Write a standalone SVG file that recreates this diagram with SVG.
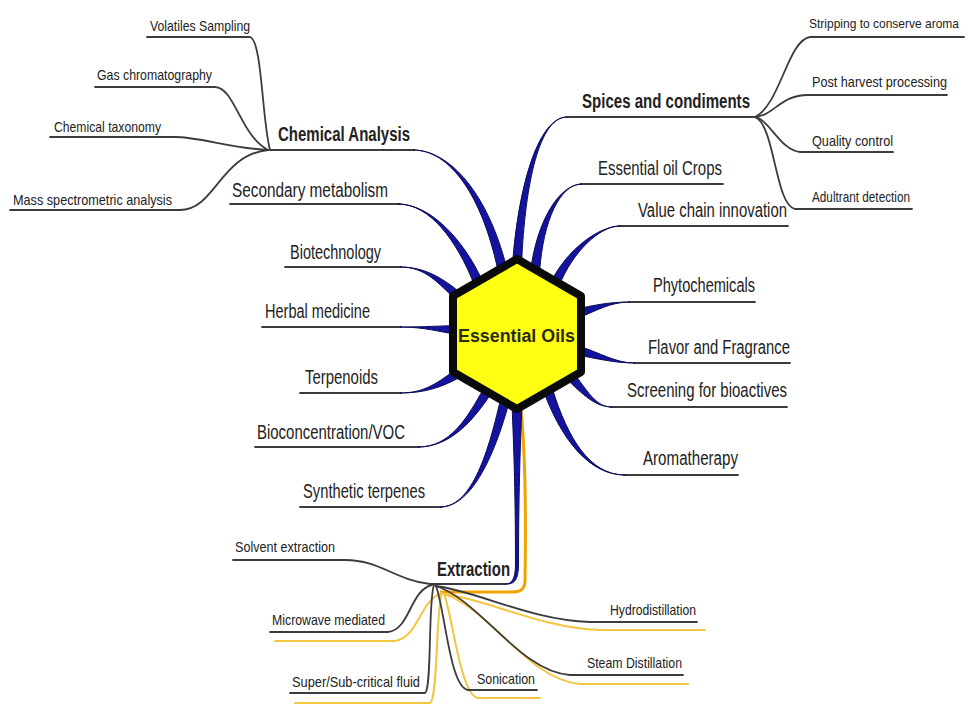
<svg xmlns="http://www.w3.org/2000/svg" width="971" height="713" viewBox="0 0 971 713">
<style>
  .bg{fill:#ffffff}
  .ln{fill:none;stroke:#3c3c3c;stroke-width:1.8;stroke-linecap:round}
  .yl{fill:none;stroke:#f2c640;stroke-width:2;stroke-linecap:round}
  .br{fill:#1313a0;stroke:#0b0b55;stroke-width:1;stroke-linejoin:round}
  .main{font-family:"Liberation Sans",Arial,sans-serif;font-size:19.5px;fill:#222}
  .bold{font-weight:bold}
  .sub{font-family:"Liberation Sans",Arial,sans-serif;font-size:15px;fill:#222}
  .hex{fill:#ffff14;stroke:#0a0a0a;stroke-width:8;stroke-linejoin:round}
  .ctr{font-family:"Liberation Sans",Arial,sans-serif;font-size:18px;font-weight:bold;fill:#2b2b12}
</style>
<rect class="bg" x="0" y="0" width="971" height="713"/>
<g id="connectors">
  <path class="ln" d="M147,37 H250 C262,40 262,120 270,150"/>
  <path class="ln" d="M95,87 H215 C235,88 240,135 268,150"/>
  <path class="ln" d="M50,137 H175 C200,137 230,148 268,150"/>
  <path class="ln" d="M10,210 H180 C215,210 220,155 268,150"/>
  <path class="ln" d="M268,150 H414"/>
  <path class="ln" d="M567,117 H757"/>
  <path class="ln" d="M964,37 H810 C788,40 780,105 755,117"/>
  <path class="ln" d="M947,95 H808 C780,95 775,115 755,117"/>
  <path class="ln" d="M893,152 H800 C780,150 770,120 755,117"/>
  <path class="ln" d="M912,209 H795 C775,205 775,125 755,117"/>
  <path class="ln" d="M230,204 H400"/>
  <path class="ln" d="M285,267 H401"/>
  <path class="ln" d="M262,327 H401"/>
  <path class="ln" d="M300,393 H401"/>
  <path class="ln" d="M255,447 H419"/>
  <path class="ln" d="M300,507 H441"/>
  <path class="ln" d="M581,184 H723"/>
  <path class="ln" d="M619,226 H788"/>
  <path class="ln" d="M629,302 H755"/>
  <path class="ln" d="M634,363 H790"/>
  <path class="ln" d="M611,407 H787"/>
  <path class="ln" d="M624,475 H738"/>
  <path d="M521,410 C525,450 526,520 525,582 C524,590 520,592 512,592 H440" fill="none" stroke="#f0a400" stroke-width="3"/>
  <path class="yl" d="M275,641 H395 C418,638 420,600 442,593"/>
  <path class="yl" d="M295,703 H430 C438,700 436,605 442,593"/>
  <path class="yl" d="M540,698 H478 C460,695 452,612 444,594"/>
  <path class="yl" d="M688,684 H580 C528,680 490,608 444,594"/>
  <path class="yl" d="M705,630 H600 C540,628 490,600 444,594"/>
  <path class="ln" d="M233,560 H345 C380,560 395,580 430,584"/>
  <path class="ln" d="M270,632 H388 C410,630 410,590 432,585"/>
  <path class="ln" d="M290,693 H425 C432,690 428,600 434,585"/>
  <path class="ln" d="M537,690 H468 C450,688 445,610 436,586"/>
  <path class="ln" d="M683,675 H570 C520,672 480,600 436,586"/>
  <path class="ln" d="M697,622 H590 C530,620 480,592 436,586"/>
  <path class="ln" d="M430,584 H506"/>
  <path class="br" d="M413,150 C450,150 481.9,195.7 497.6,269 L506.4,267 C488.1,194.3 450,150 413,150 Z"/>
  <path class="br" d="M398,204 C430,204 457.1,241.2 473.9,283.8 L482.1,280.2 C462.9,238.8 430,204 398,204 Z"/>
  <path class="br" d="M400,267 C425,267 437.9,282.3 457,301.3 L463,294.7 C442.1,277.7 425,267 400,267 Z"/>
  <path class="br" d="M400,327 C425,327 439.8,332.1 457.8,334.5 L458.2,325.5 C440.2,325.9 425,327 400,327 Z"/>
  <path class="br" d="M400,393 C425,393 441.7,387.6 462.5,375.8 L457.5,368.2 C438.3,382.4 425,393 400,393 Z"/>
  <path class="br" d="M418,447 C450,447 472.7,421.6 491.9,392.3 L484.1,387.7 C467.3,418.4 450,447 418,447 Z"/>
  <path class="br" d="M440,507 C470,507 493.1,460.8 509.4,401.1 L500.6,398.9 C486.9,459.2 470,507 440,507 Z"/>
  <path class="br" d="M505,584 C512,584 515,579 515.5,566 C515.5,500 514,450 512,405 L522,405 C520,450 518.5,500 518.5,566 C518,582 513,584.5 505,584 Z"/>
  <path class="br" d="M567,117 C540,117 518.9,179.8 512.5,264.7 L521.5,265.3 C525.1,180.2 540,117 567,117 Z"/>
  <path class="br" d="M582,184 C560,184 536.9,219.7 530.5,271.6 L539.5,272.4 C543.1,220.3 560,184 582,184 Z"/>
  <path class="br" d="M620,226 C600,226 567.1,248.7 550.9,282.2 L559.1,285.8 C572.9,251.3 600,226 620,226 Z"/>
  <path class="br" d="M630,302 C610,302 594,305 574.6,309.7 L577.4,318.3 C596,311 610,302 630,302 Z"/>
  <path class="br" d="M635,363 C615,363 600.8,352.9 577.1,345.6 L574.9,354.4 C599.2,359.1 615,363 635,363 Z"/>
  <path class="br" d="M612,407 C595,407 587.3,389.8 573.3,372.9 L566.7,379.1 C582.7,394.2 595,407 612,407 Z"/>
  <path class="br" d="M625,475 C590,475 568,439 552.3,388.6 L543.7,391.4 C562,441 590,475 625,475 Z"/>
</g>
<g id="essential-oils">
  <polygon class="hex" points="517,259 581,296 581,372 517,409 453,372 453,296"/>
  <text class="ctr" x="458" y="342" textLength="117" lengthAdjust="spacingAndGlyphs">Essential Oils</text>
</g>
<g id="chemical-analysis"><text class="main bold" x="278" y="141" textLength="132" lengthAdjust="spacingAndGlyphs">Chemical Analysis</text></g>
<g id="volatiles-sampling"><text class="sub" x="150" y="31" textLength="100" lengthAdjust="spacingAndGlyphs">Volatiles Sampling</text></g>
<g id="gas-chromatography"><text class="sub" x="97" y="80" textLength="115" lengthAdjust="spacingAndGlyphs">Gas chromatography</text></g>
<g id="chemical-taxonomy"><text class="sub" x="54" y="132" textLength="107" lengthAdjust="spacingAndGlyphs">Chemical taxonomy</text></g>
<g id="mass-spectrometric"><text class="sub" x="13" y="205" textLength="159" lengthAdjust="spacingAndGlyphs">Mass spectrometric analysis</text></g>
<g id="secondary-metabolism"><text class="main" x="232" y="197" textLength="156" lengthAdjust="spacingAndGlyphs">Secondary metabolism</text></g>
<g id="biotechnology"><text class="main" x="290" y="259" textLength="91" lengthAdjust="spacingAndGlyphs">Biotechnology</text></g>
<g id="herbal-medicine"><text class="main" x="265" y="318" textLength="105" lengthAdjust="spacingAndGlyphs">Herbal medicine</text></g>
<g id="terpenoids"><text class="main" x="305" y="384" textLength="73" lengthAdjust="spacingAndGlyphs">Terpenoids</text></g>
<g id="bioconcentration"><text class="main" x="257" y="439" textLength="148" lengthAdjust="spacingAndGlyphs">Bioconcentration/VOC</text></g>
<g id="synthetic-terpenes"><text class="main" x="303" y="498" textLength="122" lengthAdjust="spacingAndGlyphs">Synthetic terpenes</text></g>
<g id="extraction"><text class="main bold" x="437" y="576" textLength="73" lengthAdjust="spacingAndGlyphs">Extraction</text></g>
<g id="solvent-extraction"><text class="sub" x="235" y="552" textLength="100" lengthAdjust="spacingAndGlyphs">Solvent extraction</text></g>
<g id="microwave-mediated"><text class="sub" x="272" y="625" textLength="113" lengthAdjust="spacingAndGlyphs">Microwave mediated</text></g>
<g id="supercritical-fluid"><text class="sub" x="292" y="687" textLength="128" lengthAdjust="spacingAndGlyphs">Super/Sub-critical fluid</text></g>
<g id="sonication"><text class="sub" x="477" y="684" textLength="58" lengthAdjust="spacingAndGlyphs">Sonication</text></g>
<g id="steam-distillation"><text class="sub" x="587" y="668" textLength="95" lengthAdjust="spacingAndGlyphs">Steam Distillation</text></g>
<g id="hydrodistillation"><text class="sub" x="610" y="615" textLength="86" lengthAdjust="spacingAndGlyphs">Hydrodistillation</text></g>
<g id="spices-condiments"><text class="main bold" x="582" y="108" textLength="168" lengthAdjust="spacingAndGlyphs">Spices and condiments</text></g>
<g id="stripping"><text class="sub" x="809" y="28" textLength="150" lengthAdjust="spacingAndGlyphs" style="font-size:13px">Stripping to conserve aroma</text></g>
<g id="post-harvest"><text class="sub" x="812" y="87" textLength="135" lengthAdjust="spacingAndGlyphs">Post harvest processing</text></g>
<g id="quality-control"><text class="sub" x="812" y="146" textLength="81" lengthAdjust="spacingAndGlyphs">Quality control</text></g>
<g id="adultrant-detection"><text class="sub" x="812" y="202" textLength="98" lengthAdjust="spacingAndGlyphs">Adultrant detection</text></g>
<g id="essential-oil-crops"><text class="main" x="598" y="175" textLength="124" lengthAdjust="spacingAndGlyphs">Essential oil Crops</text></g>
<g id="value-chain"><text class="main" x="638" y="217" textLength="149" lengthAdjust="spacingAndGlyphs">Value chain innovation</text></g>
<g id="phytochemicals"><text class="main" x="653" y="292" textLength="102" lengthAdjust="spacingAndGlyphs">Phytochemicals</text></g>
<g id="flavor-fragrance"><text class="main" x="648" y="354" textLength="142" lengthAdjust="spacingAndGlyphs">Flavor and Fragrance</text></g>
<g id="screening"><text class="main" x="627" y="397" textLength="160" lengthAdjust="spacingAndGlyphs">Screening for bioactives</text></g>
<g id="aromatherapy"><text class="main" x="643" y="465" textLength="95" lengthAdjust="spacingAndGlyphs">Aromatherapy</text></g>
</svg>
